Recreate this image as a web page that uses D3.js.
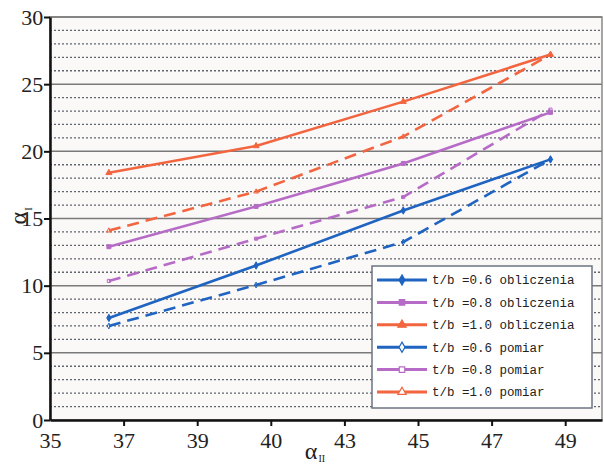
<!DOCTYPE html>
<html>
<head>
<meta charset="utf-8">
<style>
body { margin: 0; background: #fff; }
#chart { width: 604px; height: 465px; }
</style>
</head>
<body>
<div id="chart"></div>
<script src="https://d3js.org/d3.v7.min.js"></script>
<script>

// data
var xVals = [36.6, 40.6, 44.6, 48.6];
var calc06 = [7.6, 11.5, 15.6, 19.4];
var calc08 = [12.9, 15.9, 19.1, 22.9];
var calc10 = [18.4, 20.4, 23.7, 27.2];
var meas06 = [7.0, 10.05, 13.25, 19.4];
var meas08 = [10.35, 13.5, 16.6, 23.1];
var meas10 = [14.1, 17.0, 21.1, 27.2];

var seriesNames = ["t/b =0.6 obliczenia", "t/b =0.8 obliczenia", "t/b =1.0 obliczenia",
                   "t/b =0.6 pomiar", "t/b =0.8 pomiar", "t/b =1.0 pomiar"];
var xTicks = [35, 37, 39, 41, 43, 45, 47, 49];
var xTickLabels = ["35", "37", "39", "40", "43", "45", "47", "49"];
var yTicks = [0, 5, 10, 15, 20, 25, 30];

var blue = "#1e64c0", purple = "#b66cc6", orange = "#f2653f";
var serif = "'Liberation Serif', 'DejaVu Serif', serif";

var series = [
  {name: seriesNames[0], values: calc06, color: blue, dashed: false, shape: d3.symbolDiamond, filled: true},
  {name: seriesNames[1], values: calc08, color: purple, dashed: false, shape: d3.symbolSquare, filled: true},
  {name: seriesNames[2], values: calc10, color: orange, dashed: false, shape: d3.symbolTriangle, filled: true},
  {name: seriesNames[3], values: meas06, color: blue, dashed: true, shape: d3.symbolDiamond, filled: false},
  {name: seriesNames[4], values: meas08, color: purple, dashed: true, shape: d3.symbolSquare, filled: false},
  {name: seriesNames[5], values: meas10, color: orange, dashed: true, shape: d3.symbolTriangle, filled: false}
];

var margin = {top: 17, right: 2, bottom: 45, left: 50},
    width = 604 - margin.left - margin.right,
    height = 465 - margin.top - margin.bottom;

var x = d3.scaleLinear().domain([35, 50]).range([0, width]);
var y = d3.scaleLinear().domain([0, 30]).range([height, 0]);

var svg = d3.select("#chart").append("svg")
    .attr("width", 604)
    .attr("height", 465)
  .append("g")
    .attr("transform", "translate(" + margin.left + "," + margin.top + ")");

// plot background + frame
svg.append("rect")
    .attr("width", width).attr("height", height)
    .attr("fill", "#fbf8f8")
    .attr("stroke", "#8a8a8a").attr("stroke-width", 1.5);

// minor dotted grid
svg.selectAll(".minor")
    .data(d3.range(1, 30).filter(function(d) { return d % 5 !== 0; }))
  .enter().append("line")
    .attr("x1", 0).attr("x2", width)
    .attr("y1", function(d) { return y(d); })
    .attr("y2", function(d) { return y(d); })
    .attr("stroke", "#5f6670").attr("stroke-width", 1.3)
    .attr("stroke-dasharray", "2,2");

// major grid
svg.selectAll(".major")
    .data([5, 10, 15, 20, 25, 30])
  .enter().append("line")
    .attr("x1", 0).attr("x2", width)
    .attr("y1", function(d) { return y(d); })
    .attr("y2", function(d) { return y(d); })
    .attr("stroke", "#7a7a7a").attr("stroke-width", 1.5);

// lines
var line = d3.line()
    .x(function(d, i) { return x(xVals[i]); })
    .y(function(d) { return y(d); });

series.forEach(function(s) {
  svg.append("path")
      .datum(s.values)
      .attr("fill", "none")
      .attr("stroke", s.color)
      .attr("stroke-width", 2.6)
      .attr("stroke-dasharray", s.dashed ? "12,7" : null)
      .attr("d", line);
  svg.selectAll(null)
      .data(s.values)
    .enter().append("path")
      .attr("transform", function(d, i) { return "translate(" + x(xVals[i]) + "," + y(d) + ")"; })
      .attr("d", d3.symbol().type(s.shape).size(s.filled ? 16 : 10))
      .attr("fill", s.filled ? s.color : "none")
      .attr("stroke", s.color)
      .attr("stroke-width", 1);
});

// axes
var xAxis = svg.append("g")
    .attr("transform", "translate(0," + height + ")")
    .call(d3.axisBottom(x).tickValues(xTicks)
      .tickFormat(function(d, i) { return xTickLabels[i]; })
      .tickSize(6).tickSizeOuter(0));
var yAxis = svg.append("g")
    .call(d3.axisLeft(y).tickValues(yTicks).tickSize(6).tickSizeOuter(0));

[xAxis, yAxis].forEach(function(a) {
  a.style("font-family", serif).style("font-size", "22px");
  a.select(".domain").attr("stroke", "#111").attr("stroke-width", 2.5);
  a.selectAll(".tick line").attr("stroke", "#111").attr("stroke-width", 2);
  a.selectAll("text")
      .style("font-family", serif)
      .style("font-size", "22px")
      .attr("fill", "#222");
});
xAxis.selectAll("text").attr("dy", "0.85em");
yAxis.selectAll("text").attr("dx", "0.1em");
xAxis.selectAll(".tick").filter(function(d) { return d === 35; }).select("line").remove();

// axis titles
svg.append("text")
    .attr("x", x(42.2)).attr("y", height + 39)
    .attr("text-anchor", "middle")
    .style("font-family", serif)
    .style("font-size", "24px").attr("fill", "#222")
    .text("\u03b1")
  .append("tspan")
    .style("font-size", "10px").attr("dy", 3).attr("dx", 1)
    .text("II");

svg.append("text")
    .attr("transform", "translate(-24," + y(15.2) + ") rotate(-90)")
    .attr("text-anchor", "middle")
    .style("font-family", serif)
    .style("font-size", "24px").attr("fill", "#222")
    .text("\u03b1")
  .append("tspan")
    .style("font-size", "11px").attr("dy", 6).attr("dx", 1)
    .text("I");

// legend
var lg = svg.append("g")
    .attr("transform", "translate(" + (372 - margin.left) + "," + (266 - margin.top) + ")");
lg.append("rect")
    .attr("width", 220).attr("height", 142)
    .attr("fill", "#fff")
    .attr("stroke", "#6c7480").attr("stroke-width", 1.5);

var rows = lg.selectAll(".row")
    .data(series)
  .enter().append("g")
    .attr("transform", function(d, i) { return "translate(0," + (14 + i * 22.4) + ")"; });
rows.append("line")
    .attr("x1", 5).attr("x2", 55)
    .attr("stroke", function(d) { return d.color; })
    .attr("stroke-width", 3);
rows.append("path")
    .attr("transform", "translate(30,0)")
    .attr("d", function(d) { return d3.symbol().type(d.shape).size(30)(); })
    .attr("fill", function(d) { return d.filled ? d.color : "#fff"; })
    .attr("stroke", function(d) { return d.color; })
    .attr("stroke-width", 1.2);
rows.append("text")
    .attr("x", 60).attr("dy", "0.35em")
    .attr("font-family", "Liberation Mono, monospace")
    .attr("font-size", 12.5).attr("fill", "#222")
    .text(function(d) { return d.name; });

</script>
</body>
</html>
